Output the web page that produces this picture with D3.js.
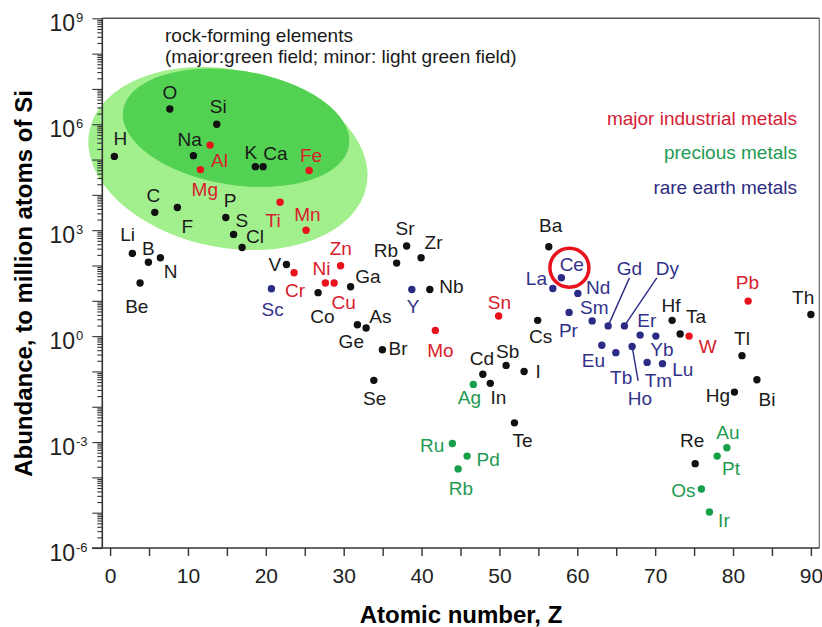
<!DOCTYPE html>
<html>
<head>
<meta charset="utf-8">
<script src="https://cdn.jsdelivr.net/npm/d3@7"></script>
<style>
  body { margin: 0; background: #ffffff; }
  svg { display: block; font-family: "Liberation Sans", Arial, Helvetica, sans-serif; }
</style>
</head>
<body>
<svg id="chart" width="822" height="627"></svg>
<script>
// ---------------- DATA ----------------
const symbols = ["H","Li","Be","B","C","N","O","F","Na","Mg","Al","Si","P","S","Cl","K","Ca","Sc","Ti","V","Cr","Mn","Fe","Co","Ni","Cu","Zn","Ga","Ge","As","Se","Br","Rb","Sr","Y","Zr","Nb","Mo","Ru","Rb","Pd","Ag","Cd","In","Sn","Sb","Te","I","Cs","Ba","La","Ce","Pr","Nd","Sm","Eu","Gd","Tb","Dy","Ho","Er","Tm","Yb","Lu","Hf","Ta","W","Re","Os","Ir","Pt","Au","Hg","Tl","Pb","Bi","Th"];
const atomicZ = [0.55,2.86,3.85,4.92,5.74,6.46,7.67,8.64,10.7,11.6,12.84,13.7,14.86,15.86,16.95,18.66,19.65,20.72,21.83,22.65,23.63,25.17,25.56,26.71,27.65,28.77,29.6,30.89,31.76,32.88,33.87,34.97,36.8,38.08,38.75,39.94,41.06,41.77,43.96,44.7,45.85,46.65,47.87,48.83,49.9,50.86,51.93,53.17,54.91,56.34,56.86,57.96,58.95,60.07,61.91,63.15,63.96,64.95,66.05,67.04,68.07,68.97,70.09,70.94,72.18,73.21,74.36,75.14,75.94,76.97,77.96,79.21,80.18,81.15,81.94,83.07,90.0];
const abundance = [1.23e5,220,32,123,3200,166,2.7e6,4370,1.29e5,5.2e4,2.57e5,1.0e6,2290,760,324,6.3e4,6.3e4,22,6200,107,62,1000,4.9e4,17,32,32,98,25,2.1,1.7,0.056,0.41,117,355,21,166,21,1.45,9.1e-4,1.74e-4,4.0e-4,0.043,0.083,0.046,3.7,0.148,0.0035,0.10,2.8,340,22.4,45,4.7,16.2,2.7,0.55,1.95,0.34,1.95,0.51,1.07,0.18,1.0,0.166,2.8,1.15,1.0,2.45e-4,4.7e-5,1.05e-5,4.0e-4,6.9e-4,0.026,0.28,9.8,0.058,4.1];
// k = other, r = major industrial metals, g = precious metals, b = rare earth metals
const groups = ["k","k","k","k","k","k","k","k","k","r","r","k","k","k","k","k","k","b","r","k","r","r","r","k","r","r","r","k","k","k","k","k","k","k","b","k","k","r","g","g","g","g","k","k","r","k","k","k","k","k","b","b","b","b","b","b","b","b","b","b","b","b","b","b","k","k","r","k","g","g","g","g","k","k","r","k","k"];
const xTickValues = [0,10,20,30,40,50,60,70,80,90];
const yLabelExponents = [9,6,3,0,-3,-6];
const legendLabels = ["major industrial metals","precious metals","rare earth metals"];
const legendGroups = ["r","g","b"];
const noteLines = ["rock-forming elements","(major:green field; minor: light green field)"];
// rock-forming fields: centre (Z, log10 abundance), semi-axes (Z units, decades), tilt (deg)
const fieldCentreZ = [15.13, 16.18];
const fieldCentreLog = [5.03, 5.90];
const fieldRadiusZ = [18.14, 14.68];
const fieldRadiusDec = [2.52, 1.62];
const fieldTilt = [11.35, 8.9];
const highlighted = "Ce";

// ---------------- LAYOUT / STYLE ----------------
// label offsets in px: [dx to text centre, dy to baseline], same order as symbols
const labelOffsets = [[6,-11],[-4.8,-12.6],[-3.3,29.6],[0,-7],[-1.3,-10.3],[10.2,20.6],[0,-10.4],[10,25],[-3.7,-9.7],[4.4,26],[9.5,21.7],[1.5,-11],[4.3,-10],[8.2,-7.2],[13,-4],[-4.5,-7.3],[12.3,-6.3],[1.2,27.5],[-7,24.7],[-11.5,6.4],[1,24.6],[1.3,-9.3],[2,-8.7],[4.3,30.3],[-4,-7.7],[9.5,25.6],[0.3,-11.3],[17.3,-4],[-6.1,23],[14.3,-4.7],[0.8,25],[15.7,5.3],[-10.7,-6],[-1.5,-11],[1.2,23.6],[12.5,-8.4],[21.6,4],[5,27],[-20.3,8.4],[2.8,26],[21,9.7],[-4,19.7],[-1,-9.5],[8,20.7],[0.8,-6.7],[1.5,-7],[8.2,24.6],[14,7],[3,22.7],[1.8,-15],[-16.4,-3.3],[10.4,-6.7],[-0.7,24.4],[20.3,0.3],[2.2,-6.8],[-8.4,21.4],[21.2,-50.7],[5.3,31.3],[42.9,-50.7],[7.7,58.7],[6.7,-7.7],[11.3,25],[6,20],[20.4,12],[-1.2,-8.3],[15.8,-10.7],[18.5,17],[-3,-17],[-18,7.7],[14.5,14.7],[13.8,19],[1,-8.4],[-16.6,9.7],[0,-11],[-0.8,-11.7],[10,26.3],[-7.7,-10.3]];
const leaders = [{el:"Gd", dx:21.3, dy:-48}, {el:"Dy", dx:32.4, dy:-48}, {el:"Ho", dx:6, dy:34.4}];

const dotColor = {k:"#111111", r:"#e8121c", g:"#16a04c", b:"#2b2b86"};
const textColor = {k:"#1a1a1a", r:"#d8202c", g:"#1f9a52", b:"#32318a"};
const fieldColor = ["#a2ef8e", "#52d152"];

const plot = {left:102.3, right:819.3, top:18.3, bottom:548};

const svg = d3.select("#chart");

const x = d3.scaleLinear().domain([-1, 91.08]).range([plot.left, plot.right]);
const y = d3.scaleLog().domain([1e-6, 1e9]).range([plot.bottom, plot.top]);

// ---------------- FIELDS ----------------
const fieldG = svg.append("g");
fieldCentreZ.forEach((cz, i) => {
  const cx = x(cz), cy = y(Math.pow(10, fieldCentreLog[i]));
  const rx = x(cz + fieldRadiusZ[i]) - x(cz);
  const ry = cy - y(Math.pow(10, fieldCentreLog[i] + fieldRadiusDec[i]));
  fieldG.append("ellipse")
    .attr("cx", cx).attr("cy", cy).attr("rx", rx).attr("ry", ry)
    .attr("transform", `rotate(${fieldTilt[i]},${cx},${cy})`)
    .attr("fill", fieldColor[i]);
});

// ---------------- FRAME & AXES ----------------
svg.append("line").attr("x1", plot.left).attr("x2", plot.right).attr("y1", plot.top).attr("y2", plot.top)
  .attr("stroke", "#555").attr("stroke-width", 1.5);
svg.append("line").attr("x1", plot.right).attr("x2", plot.right).attr("y1", plot.top).attr("y2", plot.bottom)
  .attr("stroke", "#666").attr("stroke-width", 1.2);

// y axis: minor + major ticks
const minorVals = [];
for (let e = -6; e < 9; e++) for (let m = 2; m <= 9; m++) minorVals.push(m * Math.pow(10, e));
const majorVals = d3.range(-6, 10).map(e => Math.pow(10, e));

const yMinor = svg.append("g").attr("transform", `translate(${plot.left},0)`)
  .call(d3.axisLeft(y).tickValues(minorVals).tickSize(5).tickFormat(""));
const yMajor = svg.append("g").attr("transform", `translate(${plot.left},0)`)
  .call(d3.axisLeft(y).tickValues(majorVals).tickSize(10).tickFormat(""));
[yMinor, yMajor].forEach(g => {
  g.select(".domain").remove();
  g.selectAll(".tick line").attr("stroke", "#333").attr("stroke-width", 1.1);
});

// x axis
const xAxisG = svg.append("g").attr("transform", `translate(0,${plot.bottom})`)
  .call(d3.axisBottom(x).tickValues(d3.range(0, 91, 5)).tickSize(8).tickPadding(12)
    .tickFormat(d => xTickValues.includes(d) ? d : ""));
xAxisG.select(".domain").remove();
xAxisG.selectAll(".tick line").attr("stroke", "#333").attr("stroke-width", 1.4);
xAxisG.selectAll(".tick text").attr("font-size", 21).attr("fill", "#222")
  .attr("font-family", "\"Liberation Sans\", Arial, sans-serif");

// main axis lines
svg.append("line").attr("x1", plot.left).attr("x2", plot.left).attr("y1", plot.top).attr("y2", plot.bottom)
  .attr("stroke", "#333").attr("stroke-width", 1.6);
svg.append("line").attr("x1", 92).attr("x2", plot.right).attr("y1", plot.bottom).attr("y2", plot.bottom)
  .attr("stroke", "#333").attr("stroke-width", 1.6);

// y tick labels 10^n
const yLab = svg.append("g");
yLabelExponents.forEach(e => {
  const ty = y(Math.pow(10, e));
  yLab.append("text").attr("x", 75).attr("y", ty + 12.5).attr("text-anchor", "end")
    .attr("font-size", 23).attr("fill", "#222").text("10");
  yLab.append("text").attr("x", 76).attr("y", ty + 3.5).attr("text-anchor", "start")
    .attr("font-size", 13).attr("fill", "#222").text(String(e));
});

// axis titles
svg.append("text").attr("x", 461).attr("y", 623).attr("text-anchor", "middle")
  .attr("font-size", 24).attr("font-weight", "bold").attr("fill", "#000").text("Atomic number, Z");
svg.append("text").attr("transform", "translate(32,283.5) rotate(-90)").attr("text-anchor", "middle")
  .attr("font-size", 24).attr("font-weight", "bold").attr("fill", "#000").text("Abundance, to million atoms of Si");

// ---------------- LEADER LINES ----------------
const idx = s => symbols.indexOf(s);
svg.append("g").selectAll("line").data(leaders).join("line")
  .attr("x1", d => x(atomicZ[idx(d.el)])).attr("y1", d => y(abundance[idx(d.el)]))
  .attr("x2", d => x(atomicZ[idx(d.el)]) + d.dx).attr("y2", d => y(abundance[idx(d.el)]) + d.dy)
  .attr("stroke", dotColor.b).attr("stroke-width", 1.4);

// ---------------- POINTS ----------------
svg.append("g").selectAll("circle").data(symbols).join("circle")
  .attr("cx", (d, i) => x(atomicZ[i])).attr("cy", (d, i) => y(abundance[i]))
  .attr("r", 3.7).attr("fill", (d, i) => dotColor[groups[i]]);

// ---------------- LABELS ----------------
svg.append("g").selectAll("text").data(symbols).join("text")
  .attr("x", (d, i) => x(atomicZ[i]) + labelOffsets[i][0])
  .attr("y", (d, i) => y(abundance[i]) + labelOffsets[i][1])
  .attr("text-anchor", "middle").attr("font-size", 19)
  .attr("fill", (d, i) => textColor[groups[i]]).text(d => d);

// ---------------- HIGHLIGHT CIRCLE (Ce) ----------------
const ci = idx(highlighted);
svg.append("circle").attr("cx", x(atomicZ[ci]) + 8).attr("cy", y(abundance[ci]) - 10)
  .attr("r", 19.5).attr("fill", "none").attr("stroke", "#e8121c").attr("stroke-width", 3.5);

// ---------------- NOTES & LEGEND ----------------
svg.append("g").selectAll("text").data(noteLines).join("text")
  .attr("x", 165).attr("y", (d, i) => 41.7 + i * 21.6)
  .attr("font-size", 19).attr("fill", "#1a1a1a").text(d => d);

svg.append("g").selectAll("text").data(legendLabels).join("text")
  .attr("x", 797).attr("y", (d, i) => [125, 158.5, 194.3][i])
  .attr("text-anchor", "end").attr("font-size", 19)
  .attr("fill", (d, i) => ({r:"#d42036", g:"#1f9a52", b:"#2e2d80"})[legendGroups[i]]).text(d => d);
</script>
</body>
</html>
